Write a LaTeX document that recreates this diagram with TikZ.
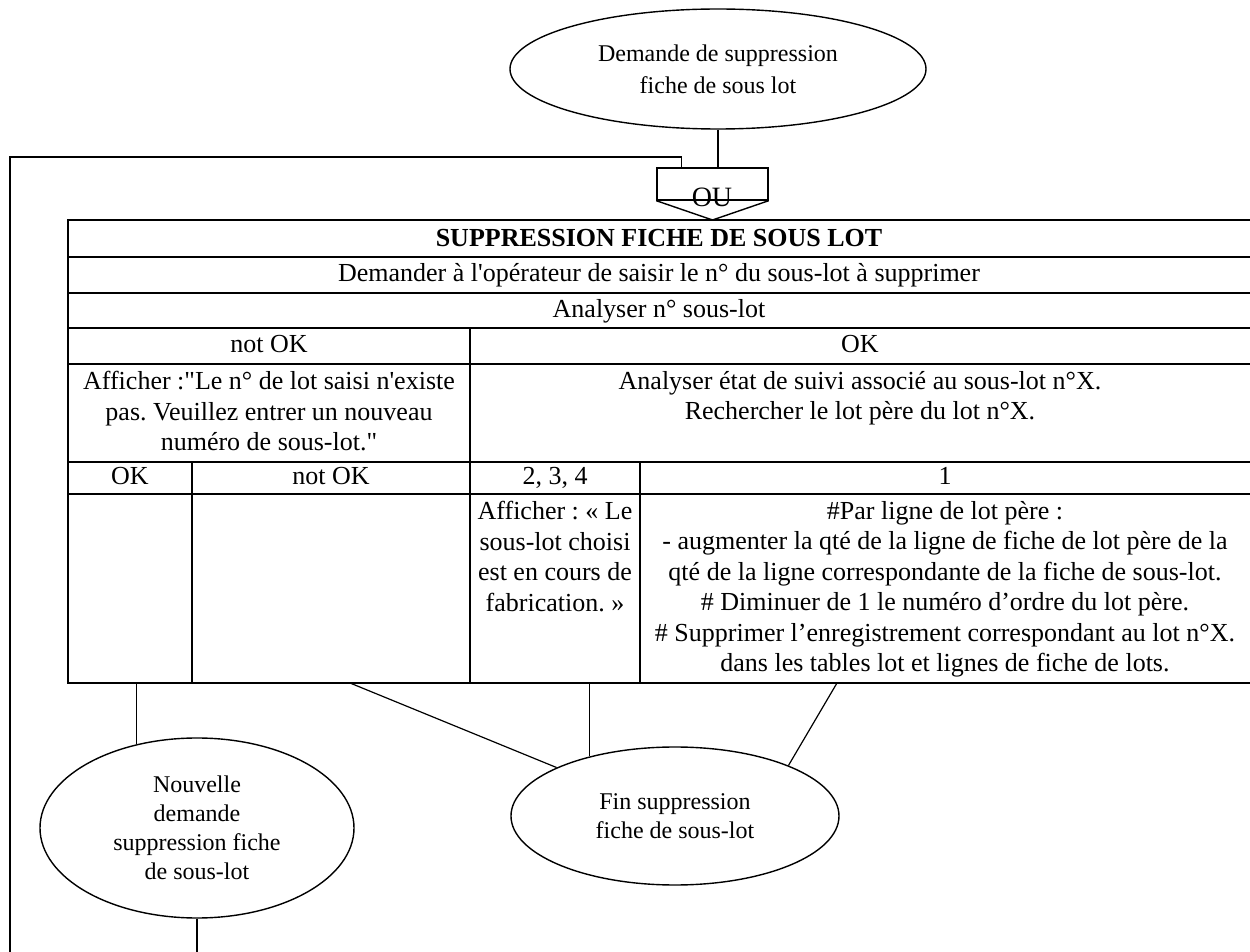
\documentclass[tikz,border=0pt]{standalone}
\usepackage{fontspec}
\setmainfont{Liberation Serif}
\usetikzlibrary{shapes.geometric}
\frenchspacing

\begin{document}
\begin{tikzpicture}[x=0.5pt, y=-0.5pt,
    trait/.style={line width=0.6pt},
    cadre/.style={line width=0.8pt},
    bulle/.style={draw, ellipse, line width=0.7pt, inner sep=0pt, align=center},
    txt/.style={font=\fontsize{12}{14.5}\selectfont},
    cell/.style={font=\fontsize{13}{15.25}\selectfont, align=center, inner sep=0pt}]
  \useasboundingbox (0,0) rectangle (1250,952);
  \coordinate (tt) at (0,220);
  \coordinate (tb) at (0,683);
  \coordinate (bas) at (0,952);
  \coordinate (boucle) at (10,952);
  \coordinate (c2) at (350,683);
  \coordinate (c4) at (837,683);
  % bulles
  \node[bulle, font=\fontsize{12}{16}\selectfont, minimum width=208pt, minimum height=60pt] (debut) at (718,69) {Demande de suppression\\fiche de sous lot};
  \node[bulle, txt, minimum width=157pt, minimum height=90pt] (nouv) at (197,828) {Nouvelle\\demande\\suppression fiche\\de sous-lot};
  \node[bulle, txt, minimum width=164pt, minimum height=69pt] (fin) at (675,816) {Fin suppression\\fiche de sous-lot};
  % OU
  \node[draw, line width=0.7pt, minimum width=55.5pt, minimum height=16pt, inner sep=0pt] (ou) at (712.5,184) {};
  \draw[line width=0.7pt] (ou.south west) -- (ou.south |- tt) -- (ou.south east);
  \node[font=\fontsize{14}{14}\selectfont, inner sep=0pt] (outxt) at (712,197) {OU};
  % tableau
  \draw[cadre] (68,220) rectangle (1253,683);
  \foreach \y in {257,293,328,364,462,494}
    \draw[cadre] (68,\y) -- (1253,\y);
  \draw[cadre] (470,328) -- (470,683);
  \foreach \x in {192,640}
    \draw[cadre] (\x,462) -- (\x,683);
  \node[cell, font=\fontsize{13}{15.25}\selectfont\bfseries, anchor=base] (titre) at (659,247) {SUPPRESSION FICHE DE SOUS LOT};
  \node[cell, anchor=base] (saisie) at (659,282) {Demander à l\textquotesingle opérateur de saisir le n° du sous-lot à supprimer};
  \node[cell, anchor=base] (analyse) at (659,318) {Analyser n° sous-lot};
  \node[cell, anchor=base] (nok) at (269,353) {not OK};
  \node[cell, anchor=base] (ok) at (860,353) {OK};
  \node[cell, anchor=north] (message) at (269,371) {Afficher :\textquotedbl Le n° de lot saisi n\textquotesingle existe\\pas. Veuillez entrer un nouveau\\numéro de sous-lot.\textquotedbl};
  \node[cell, anchor=north] (etat) at (860,371) {Analyser état de suivi associé au sous-lot n°X.\\Rechercher le lot père du lot n°X.};
  \node[cell, anchor=base] (ok2) at (130,485) {OK};
  \node[cell, anchor=base] (nok2) at (331,485) {not OK};
  \node[cell, anchor=base] (encours) at (555,485) {2, 3, 4};
  \node[cell, anchor=base] (un) at (945,485) {1};
  \node[cell, anchor=north] (fabri) at (555,501) {Afficher : « Le\\sous-lot choisi\\est en cours de\\fabrication. »};
  \node[cell, anchor=north] (pere) at (945,501) {\#Par ligne de lot père :\\- augmenter la qté de la ligne de fiche de lot père de la\\qté de la ligne correspondante de la fiche de sous-lot.\\\# Diminuer de 1 le numéro d’ordre du lot père.\\\# Supprimer l’enregistrement correspondant au lot n°X.\\dans les tables lot et lignes de fiche de lots.};
  % liaisons
  \draw[trait] (debut.south) -- (debut.south |- ou.north);
  \draw[trait] (boucle) -- (10,157) -| ([xshift=12.5pt]ou.north west);
  \draw[trait] (nouv.126 |- tb) -- (nouv.126);
  \draw[trait] (nouv.south) -- (nouv.south |- bas);
  \draw[trait] (c2) -- (fin);
  \draw[trait] (fin.145 |- tb) -- (fin.145);
  \draw[trait] (c4) -- (fin.24);
\end{tikzpicture}
\end{document}
